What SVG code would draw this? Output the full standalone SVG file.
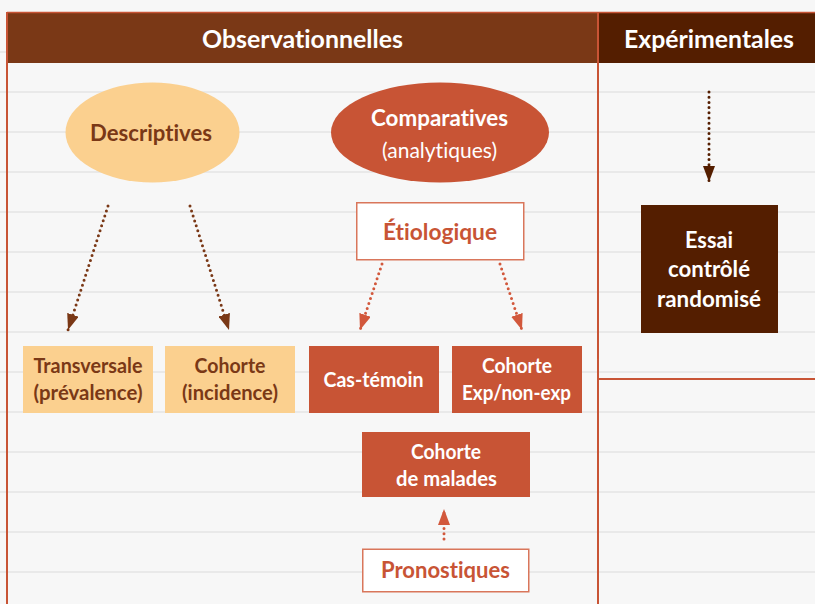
<svg xmlns="http://www.w3.org/2000/svg" width="815" height="604" viewBox="0 0 815 604">
<defs>
<style>
text{font-family:Lato,"Open Sans","Liberation Sans",sans-serif;font-weight:bold;text-anchor:middle;font-variant-ligatures:none;font-feature-settings:"liga" 0}
.grid line{stroke:#e4e4e4;stroke-width:1.5}
.w{fill:#ffffff}
.br{fill:#7a3816}
.rd{fill:#c85435}
.t21{font-size:22px}
.t19{font-size:20px}
.dot{fill:none;stroke-width:3;stroke-linecap:round;stroke-dasharray:0 5.2}
</style>
<marker id="mB" viewBox="0 0 16 12" refX="16" refY="6" markerWidth="16" markerHeight="12" markerUnits="userSpaceOnUse" orient="auto"><path d="M0,0 L16,6 L0,12 z" fill="#7a3816"/></marker>
<marker id="mR" viewBox="0 0 16 12" refX="16" refY="6" markerWidth="16" markerHeight="12" markerUnits="userSpaceOnUse" orient="auto"><path d="M0,0 L16,6 L0,12 z" fill="#d2583c"/></marker>
<marker id="mD" viewBox="0 0 16 12" refX="16" refY="6" markerWidth="16" markerHeight="12" markerUnits="userSpaceOnUse" orient="auto"><path d="M0,0 L16,6 L0,12 z" fill="#541e00"/></marker>
</defs>
<rect width="815" height="604" fill="#f7f7f7"/>
<g class="grid">
<line x1="0" y1="52" x2="815" y2="52"/><line x1="0" y1="92" x2="815" y2="92"/><line x1="0" y1="132" x2="815" y2="132"/><line x1="0" y1="172" x2="815" y2="172"/><line x1="0" y1="212" x2="815" y2="212"/><line x1="0" y1="252" x2="815" y2="252"/><line x1="0" y1="292" x2="815" y2="292"/><line x1="0" y1="332" x2="815" y2="332"/><line x1="0" y1="372" x2="815" y2="372"/><line x1="0" y1="412" x2="815" y2="412"/><line x1="0" y1="452" x2="815" y2="452"/><line x1="0" y1="492" x2="815" y2="492"/><line x1="0" y1="532" x2="815" y2="532"/><line x1="0" y1="572" x2="815" y2="572"/>
</g>
<g id="frame">
<rect x="7" y="12" width="591" height="51" fill="#7a3816"/>
<rect x="598" y="12" width="217" height="51" fill="#541e00"/>
<line x1="7" y1="12.5" x2="815" y2="12.5" stroke="#c85435" stroke-width="1.5"/>
<line x1="7" y1="12" x2="7" y2="604" stroke="#c85435" stroke-width="2"/>
<line x1="598" y1="12" x2="598" y2="604" stroke="#c85435" stroke-width="2"/>
<line x1="598" y1="379" x2="815" y2="379" stroke="#c85435" stroke-width="2"/>
<text x="302.5" y="48" class="w" font-size="25" textLength="201" lengthAdjust="spacingAndGlyphs">Observationnelles</text>
<text x="709" y="48" class="w" font-size="25" textLength="170" lengthAdjust="spacingAndGlyphs">Expérimentales</text>
</g>
<g id="descriptives">
<ellipse cx="152.5" cy="132.5" rx="87" ry="50" fill="#fbd08f"/>
<text x="151" y="141" class="br t21" textLength="122" lengthAdjust="spacingAndGlyphs">Descriptives</text>
</g>
<g id="comparatives">
<ellipse cx="440" cy="132.5" rx="109" ry="50" fill="#c85435"/>
<text x="439.5" y="126" class="w t21" textLength="137" lengthAdjust="spacingAndGlyphs">Comparatives</text>
<text x="439.5" y="158" class="w t21" style="font-weight:normal" textLength="115" lengthAdjust="spacingAndGlyphs">(analytiques)</text>
</g>
<g id="etiologique">
<rect x="356.75" y="202.75" width="167" height="57" fill="#ffffff" stroke="#d9765b" stroke-width="1.5"/>
<text x="440" y="240" class="rd t21" textLength="114" lengthAdjust="spacingAndGlyphs">Étiologique</text>
</g>
<g id="transversale">
<rect x="23" y="346" width="130" height="67" fill="#fbd08f"/>
<text x="88" y="373" class="br t19" textLength="109" lengthAdjust="spacingAndGlyphs">Transversale</text>
<text x="88" y="400" class="br t19" textLength="109" lengthAdjust="spacingAndGlyphs">(prévalence)</text>
</g>
<g id="cohorte-incidence">
<rect x="165" y="346" width="130" height="67" fill="#fbd08f"/>
<text x="230" y="373" class="br t19" textLength="71" lengthAdjust="spacingAndGlyphs">Cohorte</text>
<text x="230" y="400" class="br t19" textLength="96" lengthAdjust="spacingAndGlyphs">(incidence)</text>
</g>
<g id="cas-temoin">
<rect x="309" y="346" width="130" height="67" fill="#c85435"/>
<text x="373.5" y="387" class="w t19" textLength="100" lengthAdjust="spacingAndGlyphs">Cas-témoin</text>
</g>
<g id="cohorte-exp">
<rect x="452" y="346" width="130" height="67" fill="#c85435"/>
<text x="517" y="373" class="w t19" textLength="70" lengthAdjust="spacingAndGlyphs">Cohorte</text>
<text x="516.5" y="400" class="w t19" textLength="109" lengthAdjust="spacingAndGlyphs">Exp/non-exp</text>
</g>
<g id="cohorte-malades">
<rect x="362" y="432" width="168" height="65" fill="#c85435"/>
<text x="446" y="459" class="w t19" textLength="70" lengthAdjust="spacingAndGlyphs">Cohorte</text>
<text x="446.5" y="486" class="w t19" textLength="101" lengthAdjust="spacingAndGlyphs">de malades</text>
</g>
<g id="pronostiques">
<rect x="362.75" y="549.25" width="166" height="42.5" fill="#ffffff" stroke="#d9765b" stroke-width="1.5"/>
<text x="445.5" y="578" class="rd t21" textLength="129" lengthAdjust="spacingAndGlyphs">Pronostiques</text>
</g>
<g id="essai">
<rect x="641" y="205" width="137" height="128" fill="#541e00"/>
<text x="709" y="248" class="w t21" textLength="48" lengthAdjust="spacingAndGlyphs">Essai</text>
<text x="709" y="277" class="w t21" textLength="82" lengthAdjust="spacingAndGlyphs">contrôlé</text>
<text x="709" y="307" class="w t21" textLength="104" lengthAdjust="spacingAndGlyphs">randomisé</text>
</g>
<g id="connectors">
<line x1="108" y1="206" x2="68" y2="330" class="dot" stroke="#7a3816" marker-end="url(#mB)"/>
<line x1="190" y1="206" x2="229" y2="330" class="dot" stroke="#7a3816" marker-end="url(#mB)"/>
<line x1="382" y1="264" x2="360" y2="330" class="dot" stroke="#d2583c" marker-end="url(#mR)"/>
<line x1="500" y1="264" x2="522" y2="330" class="dot" stroke="#d2583c" marker-end="url(#mR)"/>
<line x1="709" y1="92" x2="709" y2="182" class="dot" stroke="#541e00" marker-end="url(#mD)"/>
<line x1="444" y1="539" x2="444" y2="509" class="dot" stroke="#d2583c" marker-end="url(#mR)"/>
</g>
</svg>
